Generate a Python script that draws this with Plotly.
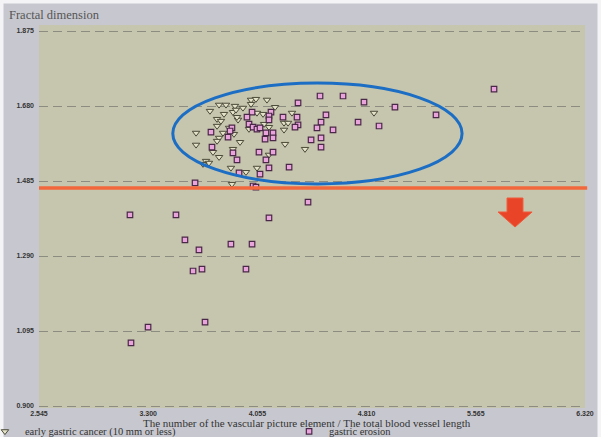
import plotly.graph_objects as go

# ---- data ----
cancer_x = [3.790, 3.838, 3.900, 4.011, 4.045, 4.121, 4.011, 3.955, 4.177, 3.727,
            3.824, 3.886, 3.921, 3.914, 4.094, 3.776, 3.803, 4.294, 4.239, 4.267,
            4.101, 4.135, 4.239, 4.861, 3.859, 3.776, 3.817, 3.631, 3.893, 3.790,
            3.776, 3.631, 3.935, 4.246, 3.748, 4.384, 3.886, 3.790, 4.135, 3.700,
            3.720, 3.679, 3.872, 4.052, 3.976, 3.879, 3.997, 3.907, 4.052]
cancer_y = [1.683, 1.683, 1.680, 1.696, 1.698, 1.696, 1.685, 1.675, 1.677, 1.667,
            1.659, 1.664, 1.644, 1.651, 1.659, 1.646, 1.641, 1.662, 1.636, 1.636,
            1.633, 1.625, 1.618, 1.662, 1.623, 1.628, 1.610, 1.610, 1.607, 1.597,
            1.589, 1.579, 1.586, 1.581, 1.560, 1.568, 1.568, 1.547, 1.553, 1.537,
            1.532, 1.529, 1.519, 1.519, 1.508, 1.477, 1.620, 1.670, 1.662]

erosion_x = [4.488, 4.647, 4.336, 4.792, 5.006, 5.290, 5.691, 4.018, 4.149, 4.135,
             3.983, 4.232, 4.329, 4.529, 4.495, 4.135, 3.997, 4.025, 4.052, 4.073,
             4.336, 4.315, 4.751, 4.896, 4.467, 4.578, 3.879, 3.866, 3.734, 4.114,
             4.163, 3.852, 4.108, 4.163, 4.426, 4.495, 3.741, 4.495, 3.886, 4.066,
             4.163, 3.914, 4.114, 4.274, 4.135, 3.928, 4.073, 3.624, 4.025, 4.045,
             3.174, 3.492, 4.135, 4.405, 3.554, 3.872, 4.018, 3.651, 3.610, 3.672,
             3.976, 3.299, 3.693, 3.181]
erosion_y = [1.706, 1.706, 1.688, 1.690, 1.677, 1.657, 1.724, 1.664, 1.664, 1.654,
             1.651, 1.651, 1.651, 1.657, 1.638, 1.644, 1.633, 1.625, 1.620, 1.623,
             1.631, 1.625, 1.638, 1.628, 1.623, 1.618, 1.623, 1.615, 1.612, 1.610,
             1.610, 1.599, 1.594, 1.597, 1.592, 1.597, 1.573, 1.573, 1.558, 1.560,
             1.560, 1.540, 1.540, 1.521, 1.519, 1.506, 1.503, 1.480, 1.472, 1.469,
             1.397, 1.397, 1.389, 1.430, 1.332, 1.321, 1.321, 1.306, 1.251, 1.256,
             1.256, 1.105, 1.118, 1.064]

x_ticks = [2.545, 3.300, 4.055, 4.810, 5.565, 6.320]
y_ticks = [0.900, 1.095, 1.290, 1.485, 1.680, 1.875]
threshold = 1.467

series_names = ["early gastric cancer (10 mm or less)", "gastric erosion"]
x_title = "The number of the vascular picture element / The total blood vessel length"
y_title = "Fractal dimension"

fig = go.Figure()
fig.add_trace(go.Scatter(
    x=cancer_x, y=cancer_y, mode="markers", name=series_names[0], legend="legend",
    marker=dict(symbol="triangle-down", size=6.5, color="#e4e2c8",
                line=dict(color="#4a4a38", width=1)),
))
fig.add_trace(go.Scatter(
    x=erosion_x, y=erosion_y, mode="markers", name=series_names[1], legend="legend2",
    marker=dict(symbol="square", size=5.5, color="#eaa4dc",
                line=dict(color="#4a2848", width=1.2)),
))

serif = "Liberation Serif, DejaVu Serif, serif"
tickfont = dict(family="Liberation Sans, Arial, sans-serif", size=7, color="#333333", weight="bold")
legfont = dict(family=serif, size=10.5, color="#333333")

# figure-edge positions in paper units (plot area spans px 39..585, 25..408)
PX0, PX1 = -39 / 546, 562 / 546
PY_TOP = 408 / 383

fig.update_layout(
    width=601, height=437,
    margin=dict(l=39, r=16, t=25, b=29, autoexpand=False),
    paper_bgcolor="#c7c8cf",
    plot_bgcolor="#c6c5ae",
    showlegend=True,
    legend=dict(orientation="h", x=-0.099, xanchor="left", y=-0.061, yanchor="middle",
                font=legfont, bgcolor="rgba(0,0,0,0)", itemwidth=30),
    legend2=dict(orientation="h", x=0.458, xanchor="left", y=-0.061, yanchor="middle",
                 font=legfont, bgcolor="rgba(0,0,0,0)", itemwidth=30),
    xaxis=dict(range=[2.545, 6.320], tickvals=x_ticks,
               ticktext=[f"{v:.3f}" for v in x_ticks],
               showgrid=False, zeroline=False, showline=False,
               ticks="", tickfont=tickfont, automargin=False),
    yaxis=dict(range=[0.8948, 1.8906], tickvals=y_ticks,
               ticktext=[f"{v:.3f}" for v in y_ticks], automargin=False,
               showgrid=True, gridcolor="#8c8c80", griddash="9px,5px", gridwidth=1,
               zeroline=False, showline=False, ticks="", tickfont=tickfont, ticklabelstandoff=4),
    annotations=[
        dict(text=y_title, xref="paper", yref="paper",
             x=-0.058, y=1.027, xanchor="left", yanchor="middle", showarrow=False,
             font=dict(family=serif, size=12.5, color="#555555")),
        dict(text=x_title, xref="paper", yref="paper",
             x=0.49, y=-0.038, xanchor="center", yanchor="middle", showarrow=False,
             font=dict(family=serif, size=11, color="#333333")),
    ],
    shapes=[
        dict(type="line", xref="paper", yref="y", x0=0, x1=1.004, y0=threshold, y1=threshold,
             line=dict(color="#f2683c", width=3.5)),
        dict(type="circle", xref="x", yref="y", x0=3.47, x1=5.47, y0=1.4775, y1=1.7395,
             line=dict(color="#1c6ec4", width=3)),
        dict(type="path", xref="x", yref="y",
             path="M 5.781,1.4408 L 5.891,1.4408 L 5.891,1.4044 L 5.954,1.4044 L 5.836,1.3654 L 5.719,1.4044 L 5.781,1.4044 Z",
             fillcolor="#ea4428", line=dict(color="#ee5a3a", width=1)),
        # light frame at the figure's top, left and right edges
        dict(type="path", xref="paper", yref="paper",
             path=f"M {PX0},{-0.08} L {PX0},{PY_TOP} L {PX1},{PY_TOP} L {PX1},{-0.08}",
             line=dict(color="#f4f4f6", width=7)),
    ],
)

fig.write_html("out.html", config={"displayModeBar": False},
               post_script="document.body.style.margin='0';document.body.style.overflow='hidden';")
